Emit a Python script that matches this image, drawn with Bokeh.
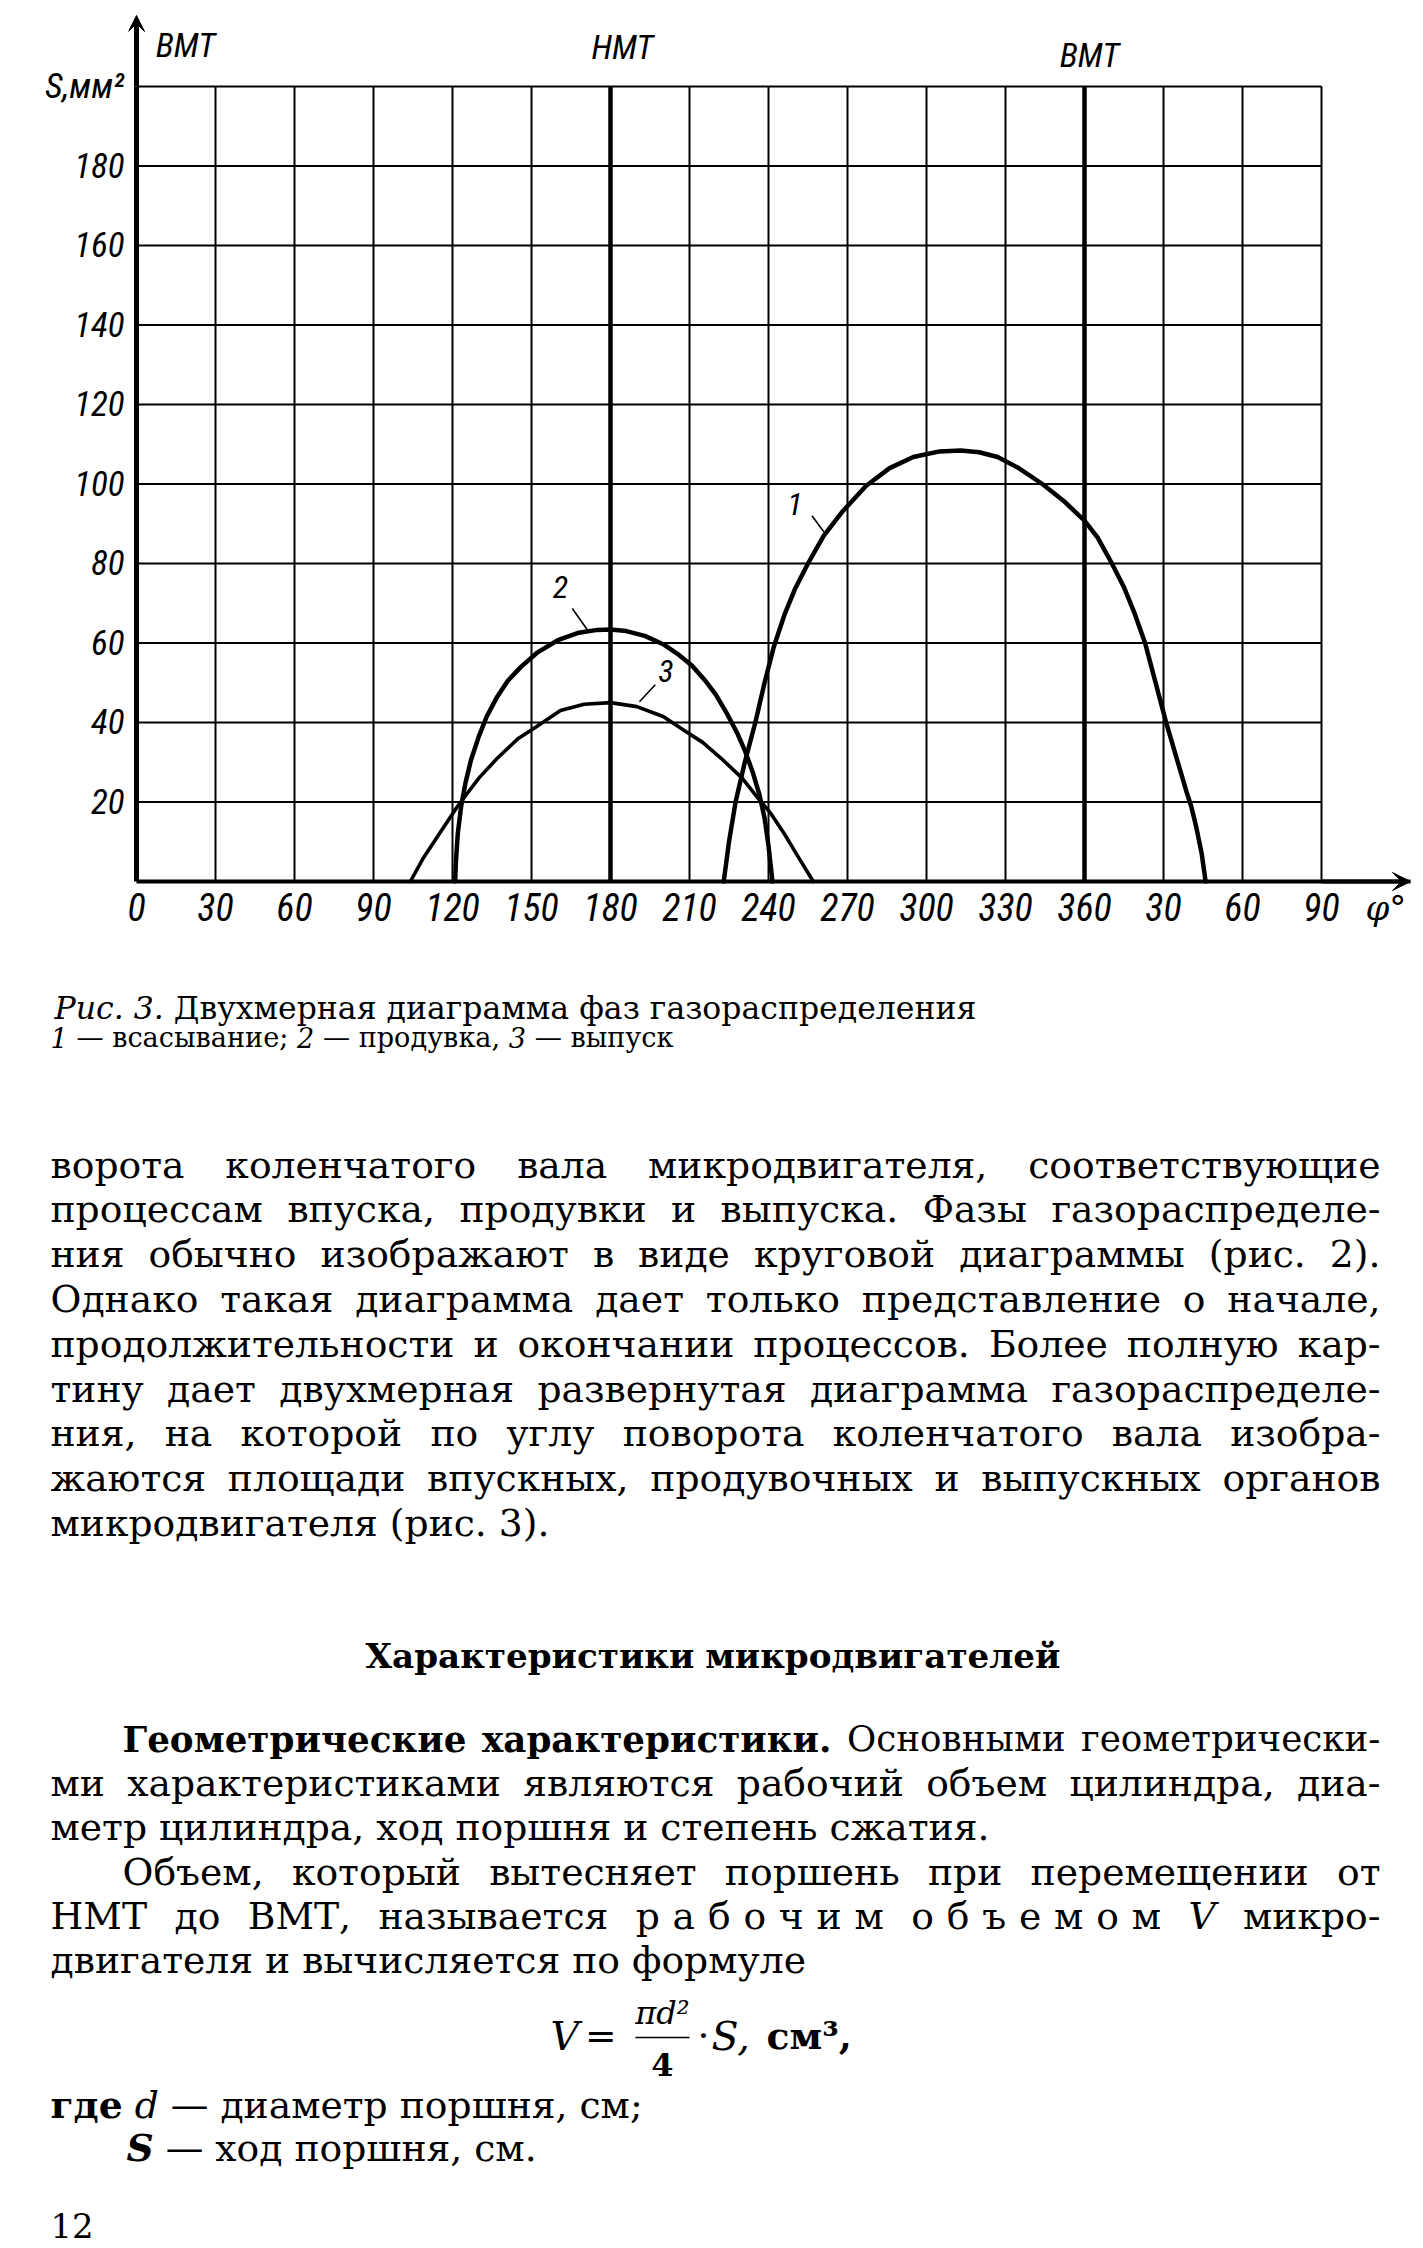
import glob
import os

from bokeh.core.properties import field, value
from bokeh.embed import file_html
from bokeh.models import Arrow, ColumnDataSource, FixedTicker, Label, Range1d, VeeHead
from bokeh.plotting import figure
from bokeh.resources import INLINE

# ------------------------------------------------------------------ data
angle_ticks = [0, 30, 60, 90, 120, 150, 180, 210, 240, 270, 300, 330, 360, 390, 420, 450]
angle_tick_labels = ["0", "30", "60", "90", "120", "150", "180", "210", "240",
                     "270", "300", "330", "360", "30", "60", "90"]
area_ticks = [20, 40, 60, 80, 100, 120, 140, 160, 180]
area_max = 200
angle_max = 450
area_axis_title = "S,мм²"
angle_axis_title = "φ°"
dead_centre_angles = [0, 180, 360]
dead_centre_names = ["ВМТ", "НМТ", "ВМТ"]

# curve 1 - всасывание (intake)
intake_phi = [223, 225, 227.5, 231, 235, 238.5, 242, 246, 250, 255, 261, 268, 277, 286, 295,
              305, 313, 320, 327, 335, 344, 352, 360, 365, 370, 375, 379, 383, 385, 387,
              389, 391, 393, 395, 397, 399, 400.5, 402.5, 404.5, 406]
intake_s = [0, 10, 20, 30, 40, 50, 59, 67, 73.5, 80, 87, 93, 99.5, 104, 106.8,
            108.2, 108.4, 108, 106.8, 104, 100, 95.8, 90.8, 86.5, 80.5, 74, 67.5, 60, 55, 50,
            45, 40, 35.5, 31, 26.5, 22, 19, 13.5, 7, 0]

# curve 2 - продувка (scavenging)
scavenge_phi = [121, 121.3, 122, 123.3, 125, 127, 130, 133, 137, 141, 146, 152, 160, 168, 175,
                180, 186, 193, 200, 206, 211, 216, 220, 224, 228, 231, 234, 236.5, 238.5, 240,
                241, 241.5]
scavenge_s = [0, 5, 12, 19, 25, 30.5, 36.5, 41.5, 46.5, 50.5, 54, 57.5, 60.7, 62.6, 63.3,
              63.4, 63, 61.8, 59.7, 57, 54.3, 50.5, 47, 42.5, 37.5, 33, 27.5, 22, 16, 9,
              3, 0]

# curve 3 - выпуск (exhaust)
exhaust_phi = [104, 109, 115, 122, 130, 137, 145, 152, 161, 170, 180, 190, 200, 208, 215,
               222, 230, 236, 241, 246, 251, 257]
exhaust_s = [0, 6, 12, 19, 26, 31, 36, 39, 43, 44.6, 45, 44, 41.5, 38, 35,
             31, 26, 21, 17, 12, 6.5, 0]

curve_ids = ["1", "2", "3"]

# ------------------------------------------------------------------ page texts
caption_line1 = "_Рис. _3. Двухмерная диаграмма фаз газораспределения"
caption_line2 = "_1 — всасывание; _2 — продувка, _3 — выпуск"

block_a = [
    "ворота коленчатого вала микродвигателя, соответствующие",
    "процессам впуска, продувки и выпуска. Фазы газораспределе-",
    "ния обычно изображают в виде круговой диаграммы (рис. 2).",
    "Однако такая диаграмма дает только представление о начале,",
    "продолжительности и окончании процессов. Более полную кар-",
    "тину дает двухмерная развернутая диаграмма газораспределе-",
    "ния, на которой по углу поворота коленчатого вала изобра-",
    "жаются площади впускных, продувочных и выпускных органов",
    "микродвигателя (рис. 3).",
]
heading = "Характеристики микродвигателей"
block_b = [
    "^Геометрические ^характеристики. Основными геометрически-",
    "ми характеристиками являются рабочий объем цилиндра, диа-",
    "метр цилиндра, ход поршня и степень сжатия.",
]
block_c = [
    "Объем, который вытесняет поршень при перемещении от",
    "НМТ до ВМТ, называется ~рабочим ~объемом _V микро-",
    "двигателя и вычисляется по формуле",
]
where_line1 = "^где _d — диаметр поршня, см;"
where_line2 = "^_S — ход поршня, см."
page_number = "12"

# ------------------------------------------------------------------ fonts
FONT_DIRS = ["/usr/share/fonts", "/usr/local/share/fonts",
             os.path.expanduser("~/.fonts"), os.path.expanduser("~/.local/share/fonts")]


def find_font(*names):
    for d in FONT_DIRS:
        if not os.path.isdir(d):
            continue
        for n in names:
            hits = glob.glob(os.path.join(d, "**", n), recursive=True)
            if hits:
                return hits[0]
    return None


CHART_FONT = "Roboto Condensed"
Y_TICK_SIZE = "35px"
X_TICK_SIZE = "38px"
TOP_LABEL_SIZE = "34px"

SERIF = "DejaVu Serif"
SERIF_FILES = {
    "normal": find_font("DejaVuSerif.ttf"),
    "bold": find_font("DejaVuSerif-Bold.ttf"),
    "italic": find_font("DejaVuSerif-Italic.ttf"),
    "bold italic": find_font("DejaVuSerif-BoldItalic.ttf"),
}

try:
    from PIL import ImageFont
except Exception:  # pragma: no cover
    ImageFont = None

_font_cache = {}


def text_width(s, style, size):
    path = SERIF_FILES.get(style) or SERIF_FILES.get("normal")
    if path and ImageFont is not None:
        f = _font_cache.get(path)
        if f is None:
            f = ImageFont.truetype(path, 200)
            _font_cache[path] = f
        return f.getlength(s) * size / 200.0
    return len(s) * size * 0.6


# ------------------------------------------------------------------ chart geometry (page px)
PAGE_W, PAGE_H = 1423, 2248
GRID_L, GRID_R, GRID_T, GRID_B = 136, 1321, 86, 881   # where the 0..450 / 0..200 grid sits
CHART_H = 990
BORDER_L, BORDER_B = 128, 60
px_x = (GRID_R - GRID_L) / angle_max
px_y = (GRID_B - GRID_T) / area_max


def xval(page_x):
    return (page_x - GRID_L) / px_x


def yval(page_y):
    return (GRID_B - page_y) / px_y


p = figure(width=PAGE_W, height=CHART_H, title=None,
           x_range=Range1d(xval(BORDER_L), xval(PAGE_W)),
           y_range=Range1d(yval(CHART_H - BORDER_B), yval(0)),
           output_backend="svg", toolbar_location=None,
           min_border_left=BORDER_L, min_border_right=0,
           min_border_top=0, min_border_bottom=BORDER_B)
p.background_fill_color = "white"
p.border_fill_color = "white"
p.outline_line_color = None
p.xgrid.visible = False
p.ygrid.visible = False

x_arrow_end = xval(1410)
y_arrow_end = yval(15)

for ax in (p.xaxis, p.yaxis):
    ax.axis_line_color = "black"
    ax.major_tick_out = 0
    ax.major_tick_in = 0
    ax.minor_tick_out = 0
    ax.minor_tick_in = 0
    ax.major_label_text_color = "black"
    ax.major_label_text_font = CHART_FONT
    ax.major_label_text_font_style = "italic"

# x axis sits on S = 0 inside the frame
p.xaxis.fixed_location = 0
p.xaxis.axis_line_width = 4
p.xaxis.bounds = (0, x_arrow_end)
p.xaxis.ticker = FixedTicker(ticks=angle_ticks, minor_ticks=[])
p.xaxis.major_label_overrides = {t: lab for t, lab in zip(angle_ticks, angle_tick_labels)}
p.xaxis.major_label_text_font_size = X_TICK_SIZE
p.xaxis.major_label_standoff = 11

# y axis labels in the left panel; its line is drawn at phi = 0 below
p.yaxis.axis_line_color = None
p.yaxis.ticker = FixedTicker(ticks=area_ticks + [area_max], minor_ticks=[])
p.yaxis.major_label_overrides = {area_max: area_axis_title}
p.yaxis.major_label_text_font_size = Y_TICK_SIZE
p.yaxis.major_label_standoff = 4

# grid (bounded to the 0..450 x 0..200 field)
thin_v = [a for a in angle_ticks[1:] if a not in dead_centre_angles]
p.segment(x0=thin_v, y0=[0] * len(thin_v), x1=thin_v, y1=[area_max] * len(thin_v),
          line_color="black", line_width=2)
h_lines = area_ticks + [area_max]
p.segment(x0=[0] * len(h_lines), y0=h_lines, x1=[angle_max] * len(h_lines), y1=h_lines,
          line_color="black", line_width=2)
thick_v = dead_centre_angles[1:]
p.segment(x0=thick_v, y0=[0] * len(thick_v), x1=thick_v, y1=[area_max] * len(thick_v),
          line_color="black", line_width=4.5)
p.segment(x0=[0], y0=[0], x1=[0], y1=[area_max], line_color="black", line_width=5)

# curves
p.line(intake_phi, intake_s, line_color="black", line_width=4.5, line_join="round", line_cap="round")
p.line(scavenge_phi, scavenge_s, line_color="black", line_width=4.5, line_join="round", line_cap="round")
p.line(exhaust_phi, exhaust_s, line_color="black", line_width=3.6, line_join="round", line_cap="round")

# curve numbers with leader lines (annotation placement)
label_pos_phi = [250, 161, 201]
label_pos_s = [95, 74, 53]
p.text(label_pos_phi, label_pos_s, text=curve_ids, text_font=value(CHART_FONT),
       text_font_style="italic", text_font_size="32px", text_align="center",
       text_baseline="middle", text_color="black")
p.segment(x0=[256.5, 165.5, 197], y0=[92, 68.7, 49.5], x1=[261, 171.5, 191], y1=[88, 63, 45.2],
          line_color="black", line_width=1.6)

# axis arrows
p.add_layout(Arrow(end=VeeHead(size=16, fill_color="black", line_color="black"),
                   x_start=0, y_start=area_max, x_end=0, y_end=y_arrow_end,
                   line_color="black", line_width=5))
p.add_layout(Arrow(end=VeeHead(size=18, fill_color="black", line_color="black"),
                   x_start=angle_max, y_start=0, x_end=x_arrow_end, y_end=0,
                   line_color="black", line_width=4))

# dead-centre labels above the grid
dc_offsets = [49, 12, 5]
dc_page_y = [44, 46, 54]
for ang, name, dx, py in zip(dead_centre_angles, dead_centre_names, dc_offsets, dc_page_y):
    p.add_layout(Label(x=ang, y=yval(py), text=name, x_offset=dx, text_align="center",
                       text_baseline="middle", text_font=CHART_FONT, text_font_style="italic",
                       text_font_size=TOP_LABEL_SIZE, text_color="black"))

p.add_layout(Label(x=angle_max, y=yval(907), text=angle_axis_title, x_offset=44, text_align="left",
                   text_baseline="middle", text_font="DejaVu Serif", text_font_style="italic",
                   text_font_size="34px", text_color="black"))

# ------------------------------------------------------------------ page text
rows = dict(x=[], y=[], text=[], style=[], size=[], font=[])


def emit(x, y, s, style, size, font=SERIF):
    rows["x"].append(x)
    rows["y"].append(y)
    rows["text"].append(s)
    rows["style"].append(style)
    rows["size"].append(f"{size:.2f}px")
    rows["font"].append(font)


def parse(line):
    toks = []
    for w in line.split(" "):
        if not w:
            continue
        style, spaced = "normal", False
        while w and w[0] in "^_~":
            if w[0] == "^":
                style = "bold" if style == "normal" else "bold italic"
            elif w[0] == "_":
                style = "italic" if style == "normal" else "bold italic"
            else:
                spaced = True
            w = w[1:]
        toks.append((w, style, spaced))
    return toks


TRACK = 0.34


def tok_width(tok, size):
    txt, style, spaced = tok
    if spaced:
        return sum(text_width(c, style, size) for c in txt) + TRACK * size * (len(txt) - 1)
    return text_width(txt, style, size)


def draw_tok(tok, x, y, size):
    txt, style, spaced = tok
    if spaced:
        for c in txt:
            emit(x, y, c, style, size)
            x += text_width(c, style, size) + TRACK * size
    else:
        emit(x, y, txt, style, size)


def natural_width(line, size):
    toks = parse(line)
    sp = text_width(" ", "normal", size)
    return sum(tok_width(t, size) for t in toks) + sp * (len(toks) - 1)


def set_line(line, x0, x1, y, size, justify=True, align="left"):
    toks = parse(line)
    widths = [tok_width(t, size) for t in toks]
    sp = text_width(" ", "normal", size)
    nat = sum(widths) + sp * (len(toks) - 1)
    gap = sp
    if align == "center":
        x0 = (x0 + x1) / 2 - nat / 2
    elif justify and len(toks) > 1:
        gap = (x1 - x0 - sum(widths)) / (len(toks) - 1)
        if gap < 0.55 * sp:
            return set_line(line, x0, x1, y, size * (x1 - x0) / (nat * 1.01), justify, align)
    x = x0
    for t, w in zip(toks, widths):
        draw_tok(t, x, y, size)
        x += w + gap


def fit_size(line, target):
    return 100.0 * target / natural_width(line, 100.0)


BODY_L, BODY_R, INDENT_L = 50, 1380, 122
calib = [(block_a[-1], 502), (block_b[-1], 939), (block_c[-1], 528)]
sizes = sorted(fit_size(t, w) for t, w in calib)
BODY_SIZE = sizes[1]

# caption
cap1_size = fit_size(caption_line1, 922)
set_line(caption_line1, 54, 976, 1007, cap1_size, justify=False)
cap2_size = fit_size(caption_line2, 623)
set_line(caption_line2, 50, 673, 1037, cap2_size, justify=False)

# block A
y0, step = 1164, 44.8
for i, line in enumerate(block_a):
    last = i == len(block_a) - 1
    set_line(line, BODY_L, BODY_R, y0 + i * step, BODY_SIZE, justify=not last)

# heading
head_line = "^" + heading.replace(" ", " ^")
head_size = fit_size(head_line, 695)
set_line(head_line, 365, 1060, 1655, head_size, align="center")

# block B, C
b_y = [1738, 1782, 1826]
for i, line in enumerate(block_b):
    x0 = INDENT_L if i == 0 else BODY_L
    set_line(line, x0, BODY_R, b_y[i], BODY_SIZE, justify=i < len(block_b) - 1)
c_y = [1871, 1915, 1959]
for i, line in enumerate(block_c):
    x0 = INDENT_L if i == 0 else BODY_L
    set_line(line, x0, BODY_R, c_y[i], BODY_SIZE, justify=i < len(block_c) - 1)

# formula  V = (πd² / 4) · S, см³,
fy = 2035
fs = BODY_SIZE
emit(550, fy, "V", "italic", fs * 1.05)
emit(550 + text_width("V", "italic", fs * 1.05) + 6, fy, "=", "normal", fs)
frac_c = 662
num_s = fs * 0.85
emit(frac_c - text_width("πd²", "italic", num_s) / 2, 2012, "πd²", "italic", num_s)
emit(frac_c - text_width("4", "bold", num_s) / 2, 2064, "4", "bold", num_s)
xx = 697
emit(xx, fy, "·", "normal", fs)
xx += text_width("·", "normal", fs) + 2
emit(xx, fy, "S,", "italic", fs * 1.05)
xx += text_width("S,", "italic", fs * 1.05) + text_width(" ", "normal", fs) * 1.4
emit(xx, fy, "см³,", "bold", fs)

set_line(where_line1, BODY_L, BODY_R, 2104, BODY_SIZE, justify=False)
set_line(where_line2, 126, BODY_R, 2147, BODY_SIZE, justify=False)
emit(BODY_L, 2225, page_number, "normal", BODY_SIZE * 0.9)

p2 = figure(width=PAGE_W, height=PAGE_H - CHART_H, title=None,
            x_range=Range1d(0, PAGE_W), y_range=Range1d(PAGE_H, CHART_H),
            output_backend="svg", toolbar_location=None,
            x_axis_type=None, y_axis_type=None, min_border=0)
p2.outline_line_color = None
p2.background_fill_color = "white"
p2.border_fill_color = "white"

src = ColumnDataSource(rows)
p2.text(x="x", y="y", text="text", source=src, text_font=field("font"),
        text_font_style=field("style"), text_font_size=field("size"),
        text_align="left", text_baseline="middle", text_color="black")
p2.segment(x0=[frac_c - 27], y0=[2037], x1=[frac_c + 27], y1=[2037],
           line_color="black", line_width=1.6)

open("out.html", "w").write(file_html([p, p2], INLINE))
